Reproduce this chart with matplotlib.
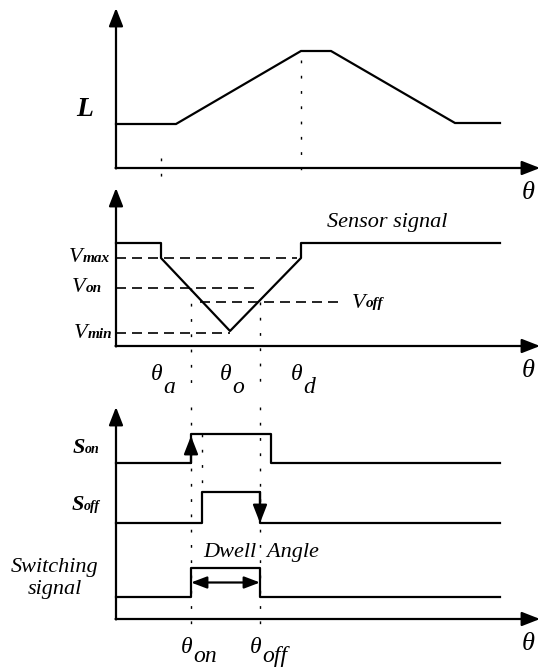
import matplotlib
matplotlib.use('Agg')
import matplotlib.pyplot as plt
from matplotlib.offsetbox import TextArea, HPacker, AnnotationBbox

plt.rcParams['font.family'] = ['Liberation Serif', 'DejaVu Serif']

# ---------------- data (theta measured from the vertical axis, levels above the horizontal axis)
# Panel 1: phase inductance profile
theta_L = [0, 60, 185, 215, 339, 384]
L_vals = [44, 44, 117, 117, 45, 45]

# Panel 2: sensor signal and thresholds
theta_S = [0, 45, 45, 114, 185, 185, 384]
S_vals = [103, 103, 88, 15, 88, 103, 103]
V_max, V_on, V_off, V_min = 88, 58, 44, 13
theta_a, theta_o, theta_d = 45, 114, 185
vmax_end, von_end, voff_start, voff_end, vmin_end = 181, 144, 84, 226, 114

# Panel 3: logic signals
theta_on, theta_off = 75, 144
theta_Son = [0, 75, 75, 155, 155, 384]
Son_vals = [156, 156, 185, 185, 156, 156]
theta_Soff = [0, 86, 86, 144, 144, 384]
Soff_vals = [96, 96, 127, 127, 96, 96]
theta_Sw = [0, 75, 75, 144, 144, 384]
Sw_vals = [22, 22, 51, 51, 22, 22]

# ---------------- figure
W, H = 541, 668
fig = plt.figure(figsize=(W / 100, H / 100), dpi=100)
X0, XT = 116, 540


def panel(origin, top):
    ax = fig.add_axes([X0 / W, (H - origin) / H, (XT - X0) / W, (origin - top) / H])
    ax.set_xlim(0, XT - X0)
    ax.set_ylim(0, origin - top)
    ax.axis('off')
    return ax


ax1 = panel(168, 8)
ax2 = panel(346, 188)
ax3 = panel(619, 407)

LW = 1.6
DASH = dict(color='k', lw=1.2, linestyle=(0, (6, 3.6)), clip_on=False)
DOT = dict(color='k', lw=1.0, linestyle=(0, (2, 9)), clip_on=False)


def axes_arrows(ax):
    xmax = ax.get_xlim()[1]
    ymax = ax.get_ylim()[1]
    kw = dict(arrowstyle='-|>,head_length=11,head_width=4.3', mutation_scale=1,
              lw=LW, color='k', shrinkA=0, shrinkB=0)
    ax.annotate('', xy=(0, ymax), xytext=(0, -0.5), arrowprops=kw, annotation_clip=False)
    ax.annotate('', xy=(xmax, 0), xytext=(-0.5, 0), arrowprops=kw, annotation_clip=False)
    ax.text(xmax - 12, -25, 'θ', ha='center', va='center', style='italic', fontsize=19)


def theta_label(ax, x, sub, yb, ysb, size=17):
    ax.text(x + 1, yb, 'θ', ha='right', va='baseline', style='italic', fontsize=size)
    ax.text(x + 2, ysb, sub, ha='left', va='baseline', style='italic', fontsize=size)


def compound(ax, xy, main, sub, align, msize=16, ssize=11, mweight='normal'):
    t1 = TextArea(main, textprops=dict(style='italic', weight=mweight, fontsize=msize,
                                       family='Liberation Serif'))
    t2 = TextArea(sub, textprops=dict(style='italic', weight='bold', fontsize=ssize,
                                      family='Liberation Serif'))
    box = HPacker(children=[t1, t2], align='baseline', pad=0, sep=0)
    ab = AnnotationBbox(box, xy, xycoords='data', box_alignment=align, frameon=False,
                        pad=0, annotation_clip=False)
    ax.add_artist(ab)


for ax in (ax1, ax2, ax3):
    axes_arrows(ax)

# ---- panel 1
ax1.plot(theta_L, L_vals, color='k', lw=LW, clip_on=False, solid_joinstyle='miter')
ax1.text(-31.5, 58, 'L', ha='center', va='center', style='italic', weight='bold', fontsize=20)
ax1.plot([theta_a, theta_a], [10, -10], **DOT)
ax1.plot([theta_d, theta_d], [108, -14], **DOT)

# ---- panel 2
ax2.plot(theta_S, S_vals, color='k', lw=LW, clip_on=False)
ax2.plot([0, vmax_end], [V_max, V_max], **DASH)
ax2.plot([0, von_end], [V_on, V_on], **DASH)
ax2.plot([voff_start, voff_end], [V_off, V_off], **DASH)
ax2.plot([0, vmin_end], [V_min, V_min], **DASH)
compound(ax2, (-6, V_max), 'V', 'max', (1, 0.5))
compound(ax2, (-14, V_on), 'V', 'on', (1, 0.5))
compound(ax2, (-4, V_min - 1), 'V', 'min', (1, 0.5))
compound(ax2, (236, V_off - 1), 'V', 'off', (0, 0.5))
ax2.text(271, 124, 'Sensor signal', ha='center', va='center', style='italic', fontsize=16)
ax2.plot([theta_on, theta_on], [V_on, -45], **DOT)
ax2.plot([theta_off, theta_off], [V_off, -45], **DOT)
theta_label(ax2, theta_a, 'a', -34, -47)
theta_label(ax2, theta_o, 'o', -34, -47)
theta_label(ax2, theta_d, 'd', -34, -47)

# ---- panel 3
ax3.plot(theta_Son, Son_vals, color='k', lw=LW, clip_on=False)
ax3.plot(theta_Soff, Soff_vals, color='k', lw=LW, clip_on=False)
ax3.plot(theta_Sw, Sw_vals, color='k', lw=LW, clip_on=False)
ax3.plot([theta_on, theta_on], [212, -6], **DOT)
ax3.plot([theta_off, theta_off], [212, -6], **DOT)
ax3.plot([86, 86], [185, 127], **DOT)
head = dict(arrowstyle='-|>,head_length=11,head_width=4.3', mutation_scale=1,
            lw=LW, color='k', shrinkA=0, shrinkB=0)
ax3.annotate('', xy=(theta_on, 183), xytext=(theta_on, Son_vals[0]), arrowprops=head)
ax3.annotate('', xy=(theta_off, Soff_vals[0]), xytext=(theta_off, Soff_vals[2]), arrowprops=head)
dbl = dict(arrowstyle='<|-|>,head_length=9.5,head_width=3.6', mutation_scale=1,
           lw=LW, color='k', shrinkA=0, shrinkB=0)
ax3.annotate('', xy=(theta_on, 36.5), xytext=(theta_off, 36.5), arrowprops=dbl)
ax3.text(145, 66, 'Dwell  Angle', ha='center', va='center', style='italic', fontsize=16)
compound(ax3, (-16, 171), 'S', 'on', (1, 0.5), msize=16, ssize=10, mweight='bold')
compound(ax3, (-16, 114), 'S', 'off', (1, 0.5), msize=16, ssize=10, mweight='bold')
ax3.text(-61, 40.5, 'Switching\nsignal', ha='center', va='center', style='italic',
         fontsize=16, linespacing=1.2)
theta_label(ax3, theta_on, 'on', -34, -43)
theta_label(ax3, theta_off, 'off', -34, -43)

fig.savefig('out.png', dpi=100, facecolor='white')
